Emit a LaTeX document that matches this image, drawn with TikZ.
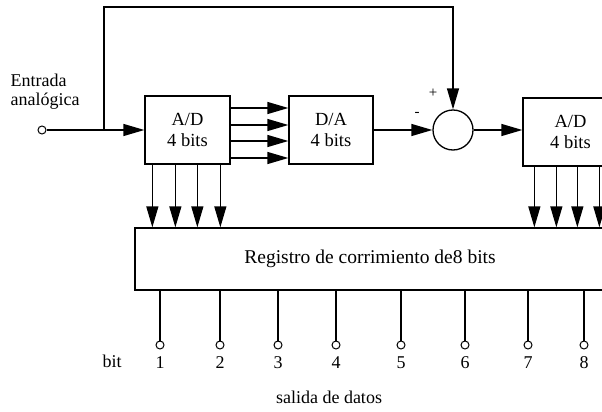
\documentclass[tikz,border=0pt]{standalone}
\usepackage{fontspec}
\setmainfont{Liberation Serif}
\usetikzlibrary{arrows.meta,calc}
\begin{document}
\begin{tikzpicture}[x=1pt,y=-1pt, line width=1.3pt,
  box/.style={draw, minimum height=68pt, align=center, inner sep=0pt,
    font=\fontsize{18.5}{21}\selectfont},
  tip/.style={-{Triangle[length=21pt,width=12pt]}},
  pin/.style={circle, draw, line width=1pt, minimum size=8pt, inner sep=0pt},
  lbl/.style={font=\fontsize{18}{20}\selectfont, inner sep=0pt},
  sgn/.style={font=\fontsize{15}{15}\selectfont, inner sep=0pt}]
\useasboundingbox (0,0) rectangle (602,412);
\clip (0,0) rectangle (602,412);
% blocks
\node[box, minimum width=85pt] (ad1) at (187.5,130) {A/D\\4 bits};
\node[box, minimum width=84pt] (da) at (331,130) {D/A\\4 bits};
\node[circle, draw, minimum size=40pt, inner sep=0pt] (sum) at (453,130) {};
\node[box, minimum width=95pt] (ad2) at (570.5,132) {A/D\\4 bits};
\node[draw, minimum width=470pt, minimum height=62pt, inner sep=0pt,
  font=\fontsize{19.5}{20}\selectfont] (reg) at (370,259) {Registro de corrimiento de8 bits};
% input
\node[lbl, align=left, anchor=west, font=\fontsize{18}{19}\selectfont] (ent) at (10,92) {Entrada\\anal\'ogica};
\node[pin] (in) at (42,130) {};
\coordinate (j) at (104,130);
\coordinate (top) at (104,7);
\draw[tip] (in) -- (ad1);
\draw[tip] (j) -- (top) -| (sum);
% A/D -> D/A
\foreach \dy in {22,5,-11,-28}{
  \draw[tip] ([yshift=\dy pt]ad1.east) -- ([yshift=\dy pt]da.west);
}
\draw[tip] (da) -- (sum);
\draw[tip] (sum) -- (ad2.west |- sum);
\node[sgn] (minus) at (417,114) {-};
\node[sgn] (plus) at (433,93) {+};
% down arrows
\foreach \dx [count=\i] in {8,31,53,76}{
  \coordinate (a\i) at ($(ad1.south west)+(\dx,0)$);
  \draw[tip] (a\i) -- (a\i |- reg.north);
}
\foreach \dx [count=\i] in {12,34,55,77}{
  \coordinate (b\i) at ($(ad2.south west)+(\dx,0)$);
  \draw[tip] (b\i) -- (b\i |- reg.north);
}
% outputs
\foreach \x [count=\i] in {160,220,278,336,401,465,528,584}{
  \node[pin] (p\i) at (\x,345) {};
  \node[lbl] (n\i) at (\x,363) {\i};
  \draw (reg.south -| p\i) -- (p\i);
}
\node[lbl] (bit) at (112,361) {bit};
\node[lbl] (sal) at (329,397) {salida de datos};
\end{tikzpicture}
\end{document}
